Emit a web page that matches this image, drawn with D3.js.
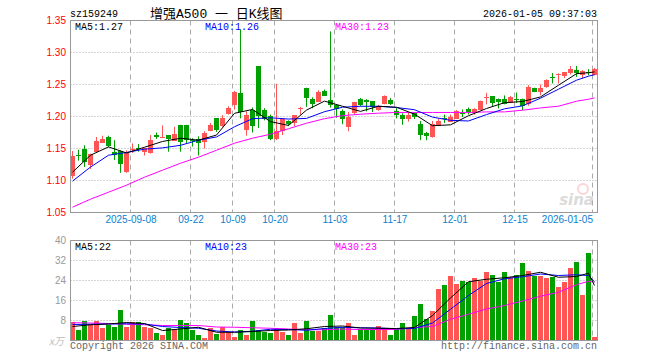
<!DOCTYPE html>
<html>
<head>
<meta charset="utf-8">
<script src="https://cdn.jsdelivr.net/npm/d3@7"></script>
<style>
  body { margin: 0; background: #fff; }
  svg { display: block; font-family: "Liberation Mono", "DejaVu Sans Mono", monospace; }
</style>
</head>
<body>
<svg id="chart" width="660" height="360"></svg>
<script>
// daily candles, 2025-08-25 .. 2026-01-05 (88 sessions)
const opens = [1.107,1.140,1.149,1.125,1.144,1.159,1.168,1.145,1.146,1.113,
  1.149,1.151,1.144,1.143,1.171,1.167,1.171,1.162,1.186,1.186,
  1.164,1.165,1.160,1.177,1.197,1.184,1.203,1.217,1.236,1.180,
  1.210,1.279,1.210,1.201,1.165,1.177,1.193,1.189,1.212,1.245,
  1.227,1.223,1.240,1.226,1.218,1.208,1.185,1.205,1.228,1.225,
  1.224,1.210,1.219,1.226,1.209,1.202,1.197,1.205,1.188,1.175,
  1.167,1.185,1.198,1.191,1.196,1.205,1.211,1.206,1.210,1.230,
  1.232,1.228,1.228,1.221,1.228,1.228,1.220,1.244,1.238,1.245,
  1.2625,1.266,1.263,1.267,1.272,1.265,1.2695,1.265];
const highs = [1.146,1.148,1.155,1.142,1.168,1.170,1.170,1.163,1.147,1.147,
  1.158,1.157,1.151,1.171,1.175,1.186,1.171,1.184,1.187,1.187,
  1.166,1.169,1.177,1.190,1.197,1.202,1.216,1.240,1.336,1.208,
  1.214,1.279,1.213,1.203,1.251,1.196,1.194,1.202,1.215,1.245,
  1.230,1.241,1.242,1.333,1.218,1.211,1.207,1.223,1.229,1.227,
  1.224,1.218,1.233,1.229,1.213,1.205,1.207,1.206,1.193,1.176,
  1.193,1.196,1.203,1.203,1.210,1.211,1.214,1.213,1.225,1.237,
  1.232,1.228,1.233,1.232,1.2375,1.228,1.249,1.245,1.250,1.258,
  1.268,1.2675,1.269,1.279,1.279,1.2725,1.274,1.276];
const lows = [1.103,1.131,1.121,1.118,1.144,1.159,1.152,1.132,1.112,1.112,
  1.143,1.145,1.139,1.142,1.165,1.167,1.145,1.162,1.145,1.158,
  1.153,1.139,1.150,1.177,1.176,1.184,1.203,1.211,1.197,1.170,
  1.175,1.182,1.194,1.163,1.163,1.171,1.185,1.185,1.203,1.215,
  1.213,1.223,1.232,1.214,1.198,1.188,1.177,1.203,1.216,1.208,
  1.207,1.209,1.219,1.218,1.197,1.187,1.192,1.196,1.163,1.163,
  1.167,1.185,1.190,1.191,1.196,1.199,1.203,1.203,1.210,1.219,
  1.216,1.2125,1.219,1.221,1.2213,1.2098,1.2166,1.238,1.2333,1.2447,
  1.2516,1.2516,1.260,1.2656,1.2619,1.2594,1.2645,1.2645];
const closes = [1.138,1.139,1.129,1.142,1.161,1.165,1.154,1.140,1.125,1.143,
  1.150,1.149,1.151,1.164,1.168,1.168,1.165,1.173,1.160,1.162,
  1.162,1.158,1.174,1.186,1.179,1.197,1.213,1.238,1.207,1.203,
  1.185,1.201,1.196,1.165,1.177,1.196,1.188,1.202,1.214,1.230,
  1.219,1.238,1.232,1.218,1.212,1.196,1.200,1.222,1.219,1.222,
  1.214,1.217,1.232,1.219,1.203,1.195,1.203,1.199,1.171,1.171,
  1.188,1.193,1.197,1.199,1.209,1.203,1.207,1.2125,1.224,1.231,
  1.221,1.224,1.220,1.2306,1.226,1.2177,1.2463,1.2384,1.2447,1.2567,
  1.2615,1.267,1.2688,1.2739,1.2672,1.2708,1.268,1.275];
// volume, 万手
const volumes = [7.3,4.4,7.7,6.7,8.0,4.9,6.3,5.3,12.4,5.3,
  7.6,7.3,5.3,4.9,2.9,2.4,4.9,4.3,8.4,6.9,
  4.4,2.4,0.9,4.9,2.7,5.3,3.6,1.6,4.4,2.4,
  8.0,4.4,3.3,2.9,4.7,3.3,2.0,7.1,2.9,8.0,
  4.0,4.0,5.1,10.4,5.6,5.6,7.1,2.4,4.7,4.7,
  4.7,6.0,4.9,2.4,4.7,7.1,4.7,10.0,14.7,8.7,
  12.0,20.7,22.4,26.0,22.7,24.0,23.6,25.1,24.0,27.6,
  26.4,23.3,27.3,25.6,26.4,30.9,28.0,26.0,26.0,24.9,
  25.6,21.6,23.3,28.9,31.3,18.4,34.9,1.6];

// moving averages, at these session indexes
const maIdx = [0,3,6,9,12,15,18,21,24,27,30,33,36,39,42,45,48,51,54,57,60,63,66,69,72,75,78,81,84,86,87];
const ma5 = [1.113,1.1395,1.1525,1.143,1.152,1.161,1.166,1.163,1.171,1.205,1.211,1.192,1.186,1.210,1.224,1.216,
  1.208,1.216,1.2145,1.2036,1.1856,1.187,1.2012,1.2125,1.2216,1.2234,1.2306,1.2489,1.2669,1.2684,1.2697];
const ma10 = [1.099,1.121,1.1395,1.1438,1.149,1.151,1.155,1.163,1.168,1.184,1.1966,1.198,1.196,1.197,1.2075,1.2145,
  1.216,1.216,1.214,1.2106,1.199,1.194,1.193,1.203,1.212,1.2166,1.2286,1.2427,1.2567,1.263,1.2653];
const ma30 = [1.0583,1.0708,1.0817,1.0927,1.1052,1.1161,1.127,1.1364,1.1473,1.1583,1.1661,1.1723,1.1809,1.1895,1.1966,1.2013,
  1.2036,1.2052,1.2063,1.2063,1.2063,1.2063,1.2063,1.2072,1.2072,1.2098,1.2134,1.2161,1.2239,1.227,1.2291];
const vma5 = [5.6,6.3,6.6,7.2,6.8,4.0,4.6,5.3,3.3,3.3,3.6,4.0,4.2,4.7,5.6,5.8,
  5.0,4.9,4.8,5.2,10.0,17.0,23.5,24.5,25.1,26.0,27.3,25.3,25.6,26.9,22.0];
const vma10 = [6.4,6.5,6.6,6.7,6.6,5.6,5.2,4.9,3.8,3.4,3.7,4.5,4.4,4.1,4.8,5.3,
  5.1,5.0,4.7,4.8,7.0,12.5,18.0,22.8,24.7,25.5,26.6,26.0,26.3,26.0,23.5];
const vma30 = [7.1,7.0,6.8,6.5,6.3,6.0,6.0,6.0,5.4,5.3,5.1,4.9,4.6,4.3,4.3,4.6,
  4.4,4.4,4.4,5.2,5.6,8.5,10.5,12.6,14.0,15.8,17.7,19.3,22.3,23.7,23.3];

// legend values as printed on the chart
const maNames = ['MA5', 'MA10', 'MA30'];
const priceMaText = ['1.27', '1.26', '1.23'];
const volMaText = ['22', '23', '23'];

const tickIdx = [10,20,27,34,44,54,64,74,87];
const tickLabels = ['2025-09-08','09-22','10-09','10-20','11-03','11-17','12-01','12-15','2026-01-05'];
const priceTicks = [1.05,1.10,1.15,1.20,1.25,1.30,1.35];
const volTicks = [8,16,24,32,40];

const UP = '#ff5555', DOWN = '#00a000';
const MA_COLORS = ['#000000', '#0000ff', '#ff00ff'];
const svg = d3.select('#chart');

const x = d3.scaleLinear().domain([0, 88]).range([70, 598]);
const y = d3.scaleLinear().domain([1.05, 1.35]).range([212.5, 20.5]);
const yv = d3.scaleLinear().domain([0, 40]).range([340.5, 240.5]);

// header
svg.append('text').attr('x', 70).attr('y', 17).attr('font-size', 10).attr('fill', '#000').text('sz159249');
svg.append('text').attr('x', 150).attr('y', 18).attr('font-size', 13)
  .attr('font-family', '"Liberation Mono", "Noto Sans CJK SC", monospace').attr('fill', '#000').text('增强A500 一 日K线图');
svg.append('text').attr('x', 597).attr('y', 17).attr('font-size', 10).attr('text-anchor', 'end')
  .attr('fill', '#000').text('2026-01-05 09:37:03');

// watermark
const wm = svg.append('g').attr('opacity', 0.35);
wm.append('circle').attr('cx', 583).attr('cy', 189).attr('r', 5).attr('fill', 'none').attr('stroke', '#e88').attr('stroke-width', 2);
wm.append('text').attr('x', 594).attr('y', 205).attr('text-anchor', 'end').attr('font-size', 15)
  .attr('font-style', 'italic').attr('font-weight', 'bold').attr('font-family', 'DejaVu Sans, sans-serif')
  .attr('fill', '#999').text('sina');

// grids
function grid(g, ticks, scale, top, bot) {
  g.selectAll('line.h').data(ticks).enter().append('line')
    .attr('x1', 70.5).attr('x2', 597.5)
    .attr('y1', d => Math.round(scale(d) - 0.5) + 0.5).attr('y2', d => Math.round(scale(d) - 0.5) + 0.5)
    .attr('stroke', '#aaa').attr('stroke-dasharray', '1,2');
  g.selectAll('line.v').data(tickIdx).enter().append('line')
    .attr('x1', d => x(d) + 0.5).attr('x2', d => x(d) + 0.5)
    .attr('y1', top).attr('y2', bot)
    .attr('stroke', '#aaa').attr('stroke-dasharray', '5,4');
}
grid(svg.append('g'), priceTicks.slice(1, -1), y, 20.5, 212.5);
grid(svg.append('g'), volTicks.slice(0, -1), yv, 240.5, 340.5);

// price labels
const yAxis = d3.axisLeft(y).tickValues(priceTicks).tickFormat(d3.format('.2f')).tickSize(0).tickPadding(4);
svg.append('g').attr('transform', 'translate(70,0)').call(yAxis)
  .call(g => g.select('.domain').remove())
  .call(g => g.selectAll('text').attr('fill', '#f00').attr('font-size', 10).attr('font-family', null));

const vAxis = d3.axisLeft(yv).tickValues(volTicks).tickSize(0).tickPadding(4);
svg.append('g').attr('transform', 'translate(70,0)').call(vAxis)
  .call(g => g.select('.domain').remove())
  .call(g => g.selectAll('text').attr('fill', '#999').attr('font-size', 10).attr('font-family', null));
svg.append('text').attr('x', 64).attr('y', 345).attr('text-anchor', 'end').attr('font-size', 10)
  .attr('font-style', 'italic').attr('fill', '#bbb').attr('font-family', '"Noto Sans CJK SC", sans-serif').text('x万');

// date labels
const xAxis = d3.axisBottom(x).tickValues(tickIdx).tickFormat((d, i) => tickLabels[i]).tickSize(0).tickPadding(4);
svg.append('g').attr('transform', 'translate(0.5,212)').call(xAxis)
  .call(g => g.select('.domain').remove())
  .call(g => g.selectAll('text').attr('fill', '#0a7fd0').attr('font-size', 10).attr('font-family', null))
  .call(g => g.selectAll('.tick:last-of-type text').attr('text-anchor', 'end'));

// clip paths
svg.append('clipPath').attr('id', 'clipP').append('rect').attr('x', 70).attr('y', 20).attr('width', 528).attr('height', 193);
svg.append('clipPath').attr('id', 'clipV').append('rect').attr('x', 70).attr('y', 240).attr('width', 528).attr('height', 101);

const idx = d3.range(opens.length);
const col = i => closes[i] >= opens[i] ? UP : DOWN;

// candles
const pc = svg.append('g').attr('clip-path', 'url(#clipP)');
pc.selectAll('line.wick').data(idx).enter().append('line')
  .attr('x1', i => x(i) + 2.5).attr('x2', i => x(i) + 2.5)
  .attr('y1', i => y(highs[i])).attr('y2', i => y(lows[i]))
  .attr('stroke', col);
pc.selectAll('rect.body').data(idx).enter().append('rect')
  .attr('x', i => x(i)).attr('width', 5)
  .attr('y', i => Math.round(y(Math.max(opens[i], closes[i]))))
  .attr('height', i => Math.max(1, Math.round(Math.abs(y(opens[i]) - y(closes[i])))))
  .attr('fill', col);

// volume bars
const vc = svg.append('g').attr('clip-path', 'url(#clipV)');
vc.selectAll('rect').data(idx).enter().append('rect')
  .attr('x', i => x(i)).attr('width', 5)
  .attr('y', i => Math.round(yv(volumes[i])))
  .attr('height', i => 340 - Math.round(yv(volumes[i])))
  .attr('fill', col);

// moving average lines
function maLine(g, vals, scale, color) {
  const line = d3.line().x((d, k) => x(maIdx[k]) + 2.5).y(d => scale(d));
  g.append('path').datum(vals).attr('d', line).attr('fill', 'none').attr('stroke', color).attr('stroke-width', 1);
}
maLine(pc, ma30, y, MA_COLORS[2]);
maLine(pc, ma10, y, MA_COLORS[1]);
maLine(pc, ma5, y, MA_COLORS[0]);
maLine(vc, vma30, yv, MA_COLORS[2]);
maLine(vc, vma10, yv, MA_COLORS[1]);
maLine(vc, vma5, yv, MA_COLORS[0]);

// frames
svg.append('rect').attr('x', 70.5).attr('y', 20.5).attr('width', 527).attr('height', 192)
  .attr('fill', 'none').attr('stroke', '#999');
svg.append('rect').attr('x', 70.5).attr('y', 240.5).attr('width', 527).attr('height', 100)
  .attr('fill', 'none').attr('stroke', '#999');

// MA legends
function legend(ty, vals) {
  maNames.forEach((name, k) => {
    svg.append('text').attr('x', 75 + 130 * k).attr('y', ty).attr('font-size', 10)
      .attr('fill', MA_COLORS[k]).text(name + ':' + vals[k]);
  });
}
legend(30, priceMaText);
legend(250, volMaText);

// footer
svg.append('text').attr('x', 70).attr('y', 349).attr('font-size', 10).attr('fill', '#666').text('Copyright 2026 SINA.COM');
svg.append('text').attr('x', 597).attr('y', 349).attr('font-size', 10).attr('text-anchor', 'end').attr('fill', '#666')
  .text('http://finance.sina.com.cn');
</script>
</body>
</html>
